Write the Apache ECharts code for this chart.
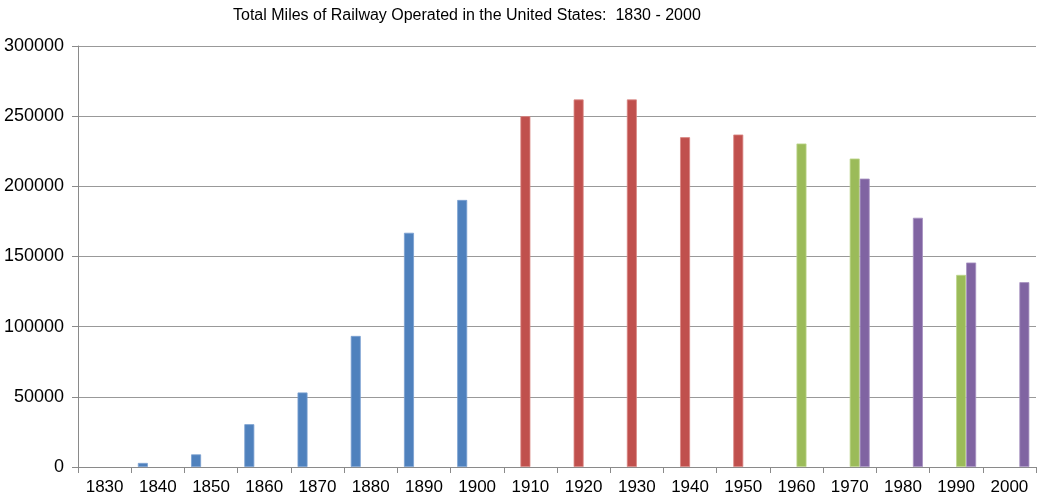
<!DOCTYPE html>
<html>
<head>
<meta charset="utf-8">
<script src="https://cdn.jsdelivr.net/npm/echarts@6/dist/echarts.min.js"></script>
<style>html,body{margin:0;padding:0;background:#fff}#c{width:1037px;height:498px}</style>
</head>
<body>
<div id="c"></div>
<script>
var categories = ['1830','1840','1850','1860','1870','1880','1890','1900','1910','1920','1930','1940','1950','1960','1970','1980','1990','2000'];
var blueValues   = [null, 2900, 9000, 30500, 53100, 93400, 166900, 190300, null, null, null, null, null, null, null, null, null, null];
var redValues    = [null, null, null, null, null, null, null, null, 250000, 261900, 261900, 235000, 236900, null, null, null, null, null];
var greenValues  = [null, null, null, null, null, null, null, null, null, null, null, null, null, 230500, 219800, null, 136900, null];
var purpleValues = [null, null, null, null, null, null, null, null, null, null, null, null, null, null, 205500, 177600, 145700, 131700];
var yTicks = [0, 50000, 100000, 150000, 200000, 250000, 300000];

var chart = echarts.init(document.getElementById('c'));
var FONT = 'Liberation Sans, Arial, sans-serif';
function s(name, data, color, border) {
  return {
    name: name, type: 'bar', data: data,
    barGap: '0%', barCategoryGap: '25%',
    itemStyle: { color: color, borderColor: border, borderWidth: 0.8 },
    animation: false
  };
}
chart.setOption({
  animation: false,
  title: {
    text: 'Total Miles of Railway Operated in the United States:  1830 - 2000',
    left: 228, top: 3,
    textStyle: { fontFamily: FONT, fontSize: 16, fontWeight: 'normal', color: '#000' }
  },
  grid: { left: 78, right: 1, top: 46, bottom: 31, containLabel: false },
  xAxis: {
    type: 'category', data: categories,
    axisLine: { lineStyle: { color: '#8a8a8a', width: 1 } },
    axisTick: { show: true, length: 6, alignWithLabel: false, lineStyle: { color: '#8a8a8a' } },
    axisLabel: { fontFamily: FONT, fontSize: 17, color: '#000', margin: 12 }
  },
  yAxis: {
    type: 'value', min: yTicks[0], max: yTicks[yTicks.length - 1], interval: 50000,
    axisLine: { show: true, lineStyle: { color: '#8a8a8a', width: 1 } },
    axisTick: { show: true, length: 6, lineStyle: { color: '#8a8a8a' } },
    splitLine: { lineStyle: { color: '#999', width: 1 } },
    axisLabel: { fontFamily: FONT, fontSize: 18, color: '#000', margin: 14, formatter: function (v) { return String(v); } }
  },
  series: [
    s('Blue', blueValues, '#4F81BD', '#7a9fd0'),
    s('Red', redValues, '#C0504D', '#d98683'),
    s('Green', greenValues, '#9BBB59', '#bcd68a'),
    s('Purple', purpleValues, '#8064A2', '#a792c2')
  ]
});
</script>
</body>
</html>
